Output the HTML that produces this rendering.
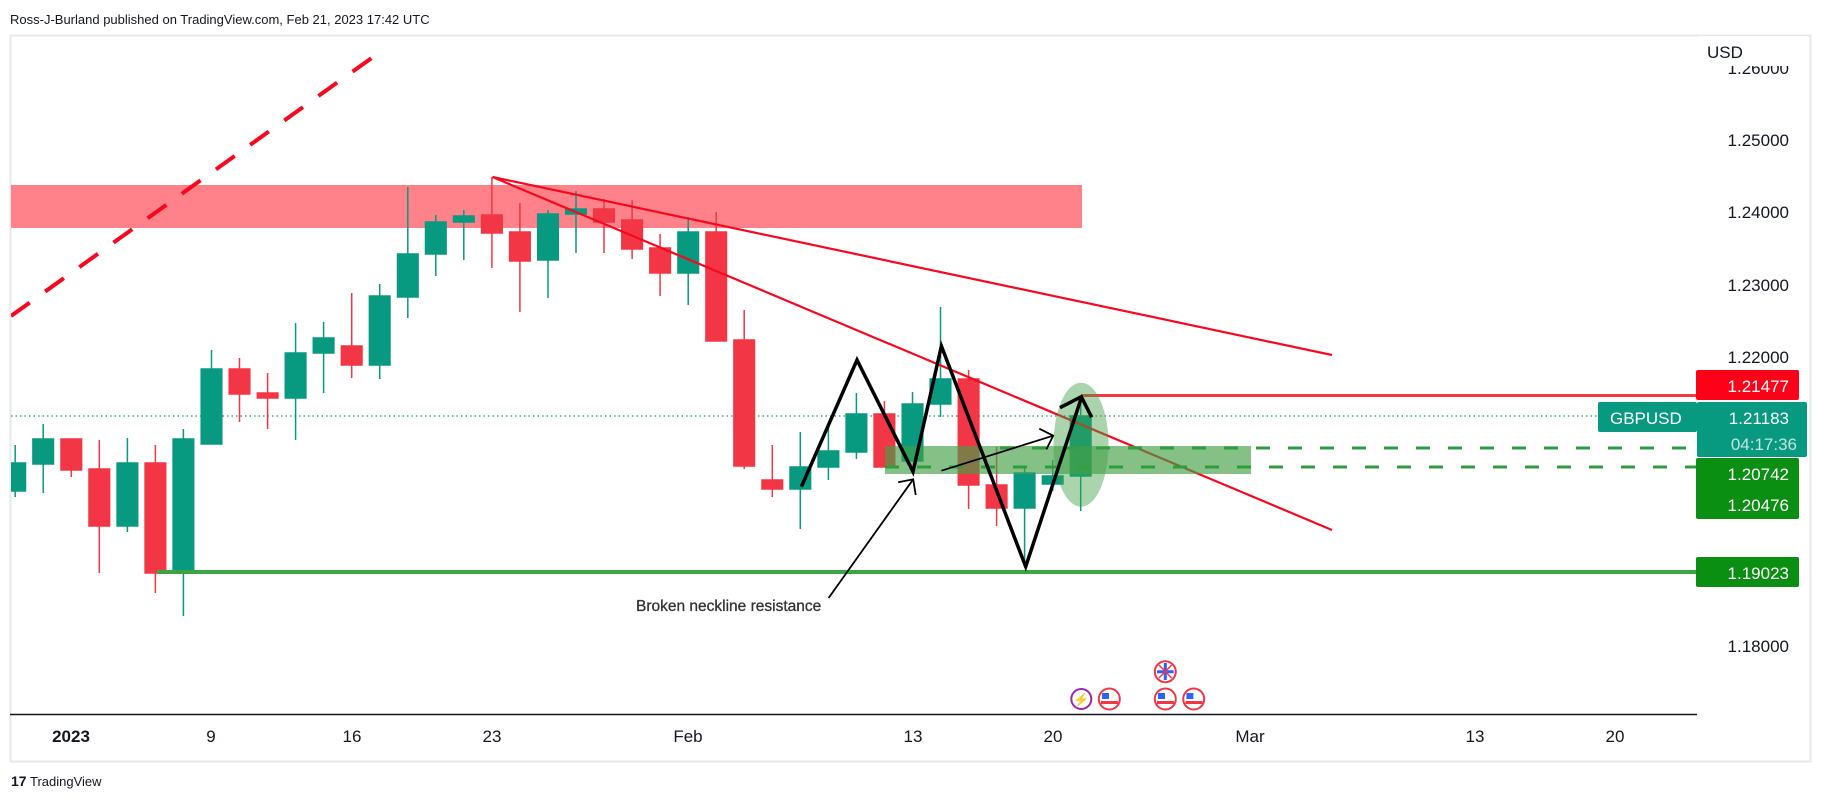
<!DOCTYPE html>
<html><head><meta charset="utf-8"><style>
html,body{margin:0;padding:0;background:#fff;}
svg{display:block;font-family:"Liberation Sans",sans-serif;}
</style></head><body>
<svg width="1823" height="801" viewBox="0 0 1823 801" xmlns="http://www.w3.org/2000/svg">
<defs><clipPath id="c"><rect x="11" y="36" width="1686" height="678"/></clipPath></defs>
<text x="10" y="24" font-size="13" fill="#131722">Ross-J-Burland published on TradingView.com, Feb 21, 2023 17:42 UTC</text>
<rect x="10.5" y="35.5" width="1800" height="726" fill="none" stroke="#e6e8ee" stroke-width="2"/>
<g clip-path="url(#c)">
<rect x="11" y="185" width="1071" height="43" fill="#ff8189"/>
<line x1="11" y1="416" x2="1600" y2="416" stroke="#089981" stroke-width="1.3" stroke-dasharray="1.5 3"/>
<line x1="11" y1="316" x2="380" y2="52" stroke="#f7081e" stroke-width="4" stroke-dasharray="23 19"/>
<g stroke-width="1.5">
<g stroke="#089981" fill="#089981">
<line x1="15.2" y1="445" x2="15.2" y2="497"/><rect x="4.9" y="463" width="20.6" height="28"/>
<line x1="43.2" y1="424" x2="43.2" y2="493"/><rect x="32.9" y="439" width="20.6" height="25"/>
<line x1="127.4" y1="438" x2="127.4" y2="532"/><rect x="117.1" y="463" width="20.6" height="63"/>
<line x1="183.4" y1="429" x2="183.4" y2="616"/><rect x="173.1" y="439" width="20.6" height="134"/>
<line x1="211.5" y1="350" x2="211.5" y2="444"/><rect x="201.2" y="369" width="20.6" height="75"/>
<line x1="295.6" y1="323" x2="295.6" y2="440"/><rect x="285.3" y="353" width="20.6" height="45"/>
<line x1="323.6" y1="322" x2="323.6" y2="393"/><rect x="313.3" y="338" width="20.6" height="15"/>
<line x1="379.7" y1="284" x2="379.7" y2="379"/><rect x="369.4" y="296" width="20.6" height="69"/>
<line x1="407.8" y1="187" x2="407.8" y2="318"/><rect x="397.5" y="254" width="20.6" height="43"/>
<line x1="435.8" y1="215" x2="435.8" y2="276"/><rect x="425.5" y="222" width="20.6" height="32"/>
<line x1="463.8" y1="210" x2="463.8" y2="260"/><rect x="453.5" y="216" width="20.6" height="6"/>
<line x1="548.0" y1="210" x2="548.0" y2="298"/><rect x="537.7" y="214" width="20.6" height="46"/>
<line x1="576.0" y1="191" x2="576.0" y2="253"/><rect x="565.7" y="209" width="20.6" height="5"/>
<line x1="688.2" y1="217" x2="688.2" y2="305"/><rect x="677.9" y="232" width="20.6" height="41"/>
<line x1="800.3" y1="432" x2="800.3" y2="529"/><rect x="790.0" y="467" width="20.6" height="22"/>
<line x1="828.4" y1="423" x2="828.4" y2="480"/><rect x="818.1" y="451" width="20.6" height="16"/>
<line x1="856.4" y1="393" x2="856.4" y2="459"/><rect x="846.1" y="414" width="20.6" height="38"/>
<line x1="912.5" y1="392" x2="912.5" y2="461"/><rect x="902.2" y="404" width="20.6" height="57"/>
<line x1="940.5" y1="307" x2="940.5" y2="417"/><rect x="930.2" y="379" width="20.6" height="25"/>
<line x1="1024.6" y1="468" x2="1024.6" y2="567"/><rect x="1014.3" y="473" width="20.6" height="35"/>
<line x1="1052.7" y1="460" x2="1052.7" y2="491"/><rect x="1042.4" y="476" width="20.6" height="8"/>
<line x1="1080.7" y1="397" x2="1080.7" y2="511"/><rect x="1070.4" y="416" width="20.6" height="60"/>
</g>
<g stroke="#f23645" fill="#f23645">
<line x1="71.3" y1="439" x2="71.3" y2="477"/><rect x="61.0" y="439" width="20.6" height="31"/>
<line x1="99.3" y1="440" x2="99.3" y2="573"/><rect x="89.0" y="469" width="20.6" height="57"/>
<line x1="155.4" y1="445" x2="155.4" y2="593"/><rect x="145.1" y="463" width="20.6" height="110"/>
<line x1="239.5" y1="358" x2="239.5" y2="422"/><rect x="229.2" y="369" width="20.6" height="25"/>
<line x1="267.6" y1="373" x2="267.6" y2="429"/><rect x="257.3" y="393" width="20.6" height="5"/>
<line x1="351.7" y1="293" x2="351.7" y2="378"/><rect x="341.4" y="346" width="20.6" height="19"/>
<line x1="491.9" y1="177" x2="491.9" y2="268"/><rect x="481.6" y="215" width="20.6" height="18"/>
<line x1="519.9" y1="203" x2="519.9" y2="312"/><rect x="509.6" y="232" width="20.6" height="29"/>
<line x1="604.0" y1="199" x2="604.0" y2="253"/><rect x="593.7" y="209" width="20.6" height="13"/>
<line x1="632.1" y1="200" x2="632.1" y2="259"/><rect x="621.8" y="220" width="20.6" height="29"/>
<line x1="660.1" y1="234" x2="660.1" y2="296"/><rect x="649.8" y="248" width="20.6" height="25"/>
<line x1="716.2" y1="212" x2="716.2" y2="341"/><rect x="705.9" y="232" width="20.6" height="109"/>
<line x1="744.2" y1="310" x2="744.2" y2="469"/><rect x="733.9" y="340" width="20.6" height="126"/>
<line x1="772.3" y1="445" x2="772.3" y2="497"/><rect x="762.0" y="480" width="20.6" height="9"/>
<line x1="884.4" y1="401" x2="884.4" y2="467"/><rect x="874.1" y="414" width="20.6" height="53"/>
<line x1="968.6" y1="370" x2="968.6" y2="509"/><rect x="958.3" y="379" width="20.6" height="106"/>
<line x1="996.6" y1="447" x2="996.6" y2="526"/><rect x="986.3" y="485" width="20.6" height="23"/>
</g>
</g>
<line x1="492.5" y1="177" x2="1332" y2="355" stroke="#f7081e" stroke-width="2.2"/>
<line x1="492.5" y1="177" x2="1332" y2="530" stroke="#f7081e" stroke-width="2.2"/>
<line x1="1081" y1="395.5" x2="1697" y2="395.5" stroke="#f23645" stroke-width="3"/>
<line x1="157" y1="572" x2="1697" y2="572" stroke="#3ca543" stroke-width="4"/>
<rect x="885" y="446" width="366" height="28" fill="#43a047" fill-opacity="0.65"/>
<line x1="1000" y1="448" x2="1697" y2="448" stroke="#2e9e3a" stroke-width="3" stroke-dasharray="14 18"/>
<line x1="885" y1="467" x2="1697" y2="467" stroke="#2e9e3a" stroke-width="3" stroke-dasharray="14 18"/>
<ellipse cx="1081" cy="444.7" rx="27.5" ry="62" fill="#43a047" fill-opacity="0.45"/>
<polyline points="801.4,486.7 857,360 913,471.7 941.4,346 1025.7,566.7 1081.4,397.7" fill="none" stroke="#000" stroke-width="3.5" stroke-linejoin="miter"/>
<polyline points="1060,407.7 1081.3,396.7 1091.7,417.3" fill="none" stroke="#000" stroke-width="3.5"/>
<g stroke="#000" stroke-width="1.8" fill="none">
<line x1="828.6" y1="598" x2="913.2" y2="479.3"/>
<polyline points="898.2,482.3 913.2,479.3 915.7,495"/>
<line x1="941.4" y1="470.7" x2="1053.2" y2="435.7"/>
<polyline points="1039.3,428.7 1053.2,435.7 1046.4,449.3"/>
</g>
<text x="636" y="611" font-size="15.5" fill="#333" stroke="#333" stroke-width="0.3">Broken neckline resistance</text>
<circle cx="1081.3" cy="699" r="10" fill="#fff" stroke="#9c27b0" stroke-width="2"/>
<text x="1081.3" y="704" font-size="13" fill="#9c27b0" text-anchor="middle">⚡</text>
<g stroke="#f23645" stroke-width="2" fill="#fff">
<circle cx="1109.3" cy="699" r="10.5"/><circle cx="1165.3" cy="699" r="10.5"/><circle cx="1193.7" cy="699" r="10.5"/><circle cx="1165.3" cy="671.7" r="10.5"/>
</g>
<g fill="#2962ff"><rect x="1102" y="693" width="7" height="6"/><rect x="1158" y="693" width="7" height="6"/><rect x="1186.4" y="693" width="7" height="6"/></g>
<g fill="#f23645"><rect x="1101" y="701" width="17" height="3"/><rect x="1157" y="701" width="17" height="3"/><rect x="1185.4" y="701" width="17" height="3"/></g>
<g stroke="#2962ff" stroke-width="3"><line x1="1157" y1="671.7" x2="1173.6" y2="671.7"/><line x1="1165.3" y1="663" x2="1165.3" y2="680"/></g>
<g stroke="#f23645" stroke-width="1.5"><line x1="1159" y1="665" x2="1171.6" y2="678"/><line x1="1171.6" y1="665" x2="1159" y2="678"/></g>
</g>
<line x1="10" y1="714.5" x2="1697" y2="714.5" stroke="#131722" stroke-width="1.5"/>
<g font-size="17" fill="#131722" text-anchor="middle">
<text x="71" y="742" font-weight="bold">2023</text>
<text x="211" y="742">9</text><text x="352" y="742">16</text><text x="492" y="742">23</text>
<text x="688" y="742">Feb</text><text x="913" y="742">13</text><text x="1053" y="742">20</text>
<text x="1250" y="742">Mar</text><text x="1475" y="742">13</text><text x="1615" y="742">20</text>
</g>
<g font-size="17" fill="#131722" text-anchor="end">
<text x="1789" y="74">1.26000</text>
<rect x="1698" y="36" width="110" height="30" fill="#fff"/>
<text x="1789" y="146">1.25000</text>
<text x="1789" y="218">1.24000</text>
<text x="1789" y="291">1.23000</text>
<text x="1789" y="363">1.22000</text>
<text x="1789" y="652">1.18000</text>
</g>
<text x="1707" y="58" font-size="17" fill="#131722">USD</text>
<rect x="1696" y="370" width="103" height="30" rx="2" fill="#ff0019"/>
<text x="1789" y="392" font-size="17" fill="#fff" text-anchor="end">1.21477</text>
<rect x="1598" y="402" width="99" height="30" rx="2" fill="#089981"/>
<text x="1610" y="424" font-size="17" fill="#fff">GBPUSD</text>
<rect x="1697" y="402" width="110" height="55" rx="2" fill="#089981"/>
<text x="1789" y="424" font-size="17" fill="#fff" text-anchor="end">1.21183</text>
<text x="1797" y="450" font-size="17" fill="#fff" fill-opacity="0.75" text-anchor="end">04:17:36</text>
<rect x="1696" y="458" width="103" height="61" rx="2" fill="#0a8f12"/>
<text x="1789" y="480" font-size="17" fill="#fff" text-anchor="end">1.20742</text>
<text x="1789" y="511" font-size="17" fill="#fff" text-anchor="end">1.20476</text>
<rect x="1696" y="557" width="103" height="30" rx="2" fill="#0a8f12"/>
<text x="1789" y="579" font-size="17" fill="#fff" text-anchor="end">1.19023</text>
<text x="11" y="786" font-size="14" font-weight="bold" fill="#131722">17</text>
<text x="30" y="786" font-size="13" fill="#131722">TradingView</text>
</svg>
</body></html>
